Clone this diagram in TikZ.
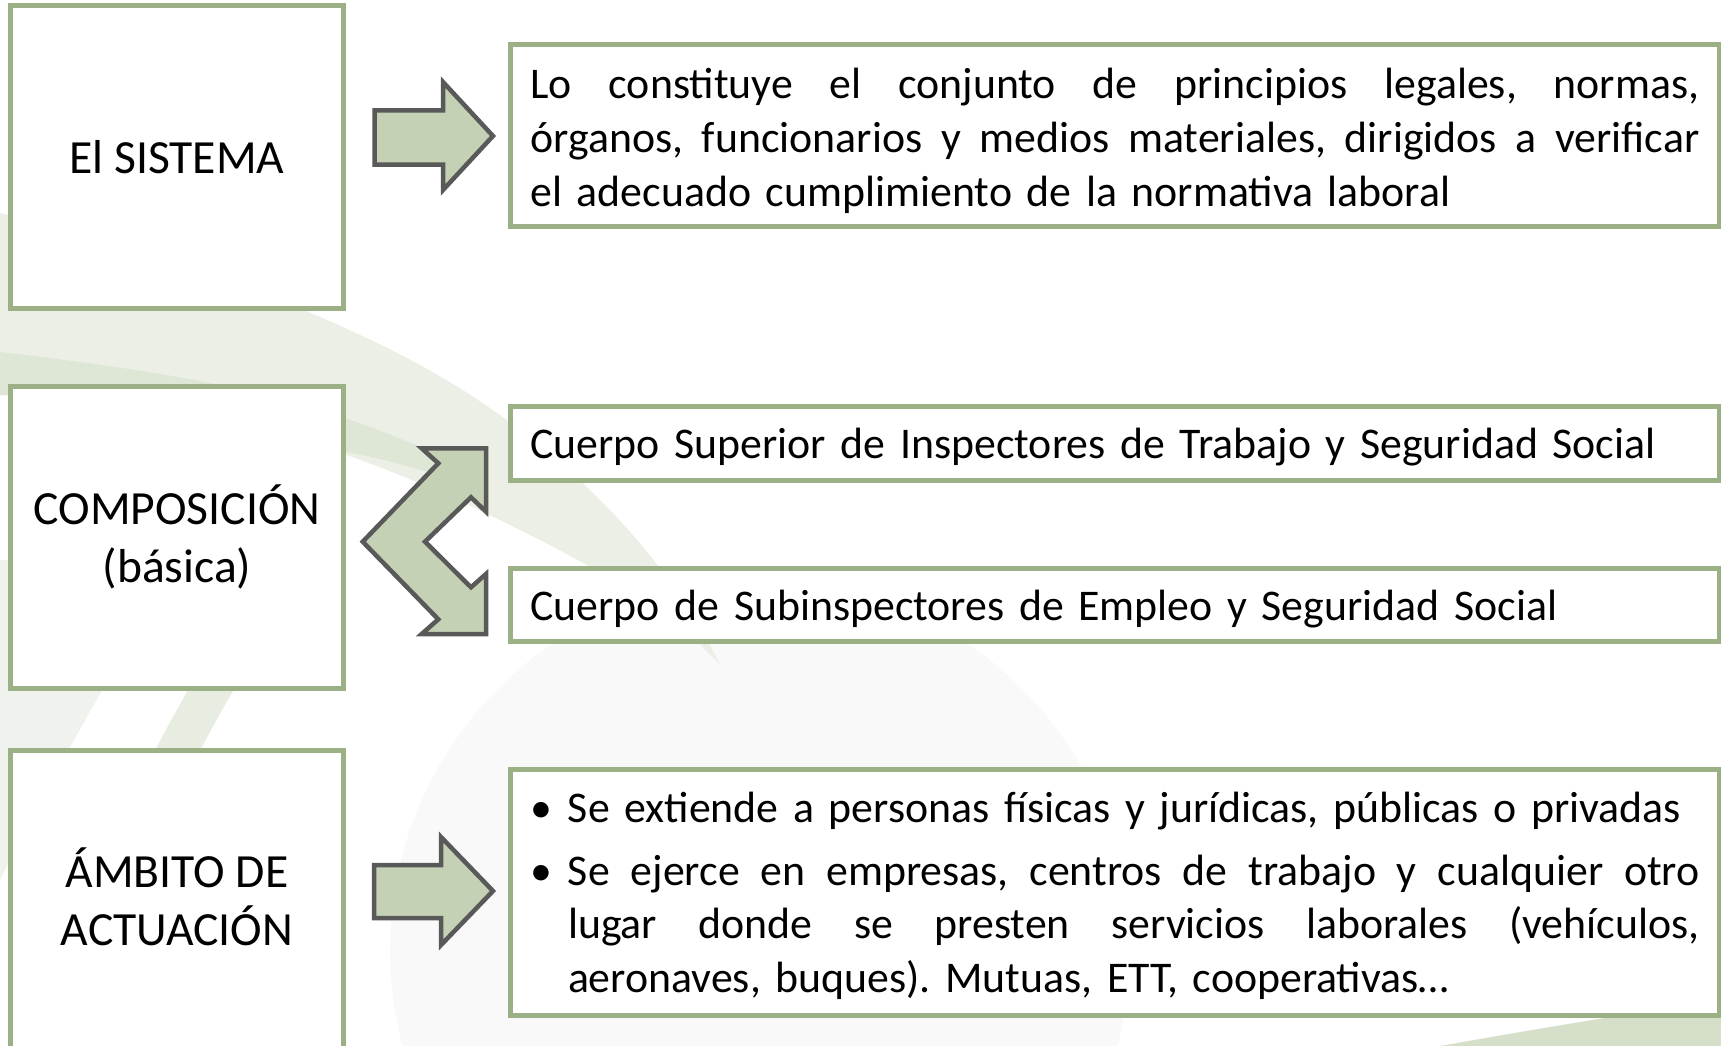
\documentclass[tikz,border=0pt]{standalone}
\usepackage{fontspec}
\setmainfont{Carlito}
\frenchspacing
\definecolor{boxgreen}{RGB}{155,176,132}
\definecolor{arrowfill}{RGB}{197,209,181}
\definecolor{arrowline}{RGB}{89,89,89}
\definecolor{swooshlight}{RGB}{235,239,229}
\definecolor{swooshdark}{RGB}{222,230,214}
\definecolor{swooshgrey}{RGB}{240,242,237}
\definecolor{swooshtail}{RGB}{213,223,201}
\definecolor{haze}{RGB}{249,249,249}
% justified line: spaces stretch to fill the given width
\newcommand{\jline}[2]{\makebox[#1][s]{\spaceskip=\fontdimen2\font plus 1fil\relax #2}}

\begin{document}
\begin{tikzpicture}[x=1pt,y=-1pt,
    leftbox/.style={draw=boxgreen, line width=5pt, fill=white,
        minimum width=333.5pt, minimum height=302pt, align=center,
        font=\fontsize{47.6}{58}\selectfont},
    labeltext/.style={align=center, font=\fontsize{47.6}{58}\selectfont},
    rightbox/.style={draw=boxgreen, line width=5pt, fill=white,
        text width=1169pt, inner xsep=20pt, inner ysep=0pt, align=left,
        font=\fontsize{43.8}{54.3}\selectfont},
    blockarrow/.style={draw=arrowline, line width=4.5pt, fill=arrowfill, line join=miter}]
    \useasboundingbox (0,0) rectangle (1721,1046);
    \clip (0,0) rectangle (1721,1046);

    % Background swooshes
    \fill[haze] (760,950) circle (370);
    \fill[swooshlight] (0,213) .. controls (150,250) and (300,300) .. (420,365)
        .. controls (540,430) and (660,540) .. (720,665)
        .. controls (670,610) and (600,570) .. (520,530)
        .. controls (440,490) and (330,440) .. (200,415)
        .. controls (120,400) and (60,395) .. (0,395) -- cycle;
    \fill[swooshdark] (0,352) .. controls (150,370) and (300,390) .. (437,455)
        .. controls (460,468) and (475,480) .. (485,495)
        .. controls (460,480) and (400,462) .. (347,452)
        .. controls (250,430) and (100,400) .. (0,395) -- cycle;
    \fill[swooshgrey] (0,560) -- (180,560) .. controls (130,640) and (60,760) .. (0,880) -- cycle;
    \fill[swooshdark!70!white] (300,520) .. controls (240,600) and (190,680) .. (140,780)
        -- (185,780) .. controls (230,690) and (280,610) .. (340,530) -- cycle;
    \fill[swooshtail] (1440,1046) .. controls (1530,1030) and (1620,1015) .. (1721,1000)
        -- (1721,1046) -- cycle;

    % Left column
    \node[leftbox] (sistema) at (177,157) {El SISTEMA};
    \node[leftbox] (composicion) at (177,537) {COMPOSICIÓN\\(básica)};
    \node[leftbox] (ambito) at (177,901) {};
    \node[labeltext] (ambitolabel) at ([yshift=4.5pt]ambito.center) {ÁMBITO DE\\ACTUACIÓN};

    % Right column
    \node[rightbox, minimum height=182pt, text height=35pt, text depth=109.6pt] (definicion) at (1115,135.5)
        {\jline{1169pt}{Lo constituye el conjunto de principios legales, normas,}\\
         \jline{1169pt}{órganos, funcionarios y medios materiales, dirigidos a verificar}\\
         el adecuado cumplimiento de la normativa laboral};
    \node[rightbox, minimum height=74pt, text height=35pt, text depth=5.4pt] (superior) at (1115,443.5)
        {Cuerpo Superior de Inspectores de Trabajo y Seguridad Social};
    \node[rightbox, minimum height=73pt, text height=35pt, text depth=3.6pt] (subinspectores) at (1115,605)
        {Cuerpo de Subinspectores de Empleo y Seguridad Social};
    \node[rightbox, minimum height=246pt, text height=35pt, text depth=175pt,
          font=\fontsize{43.8}{53.8}\selectfont] (alcance) at (1115,892.5)
        {\makebox[37.5pt][l]{\textbullet}Se extiende a personas físicas y jurídicas, públicas o privadas\\[8.8pt]
         \makebox[37.5pt][l]{\textbullet}\jline{1131.5pt}{Se ejerce en empresas, centros de trabajo y cualquier otro}\\
         \hspace*{37.5pt}\jline{1131.5pt}{lugar donde se presten servicios laborales (vehículos,}\\
         \hspace*{37.5pt}aeronaves, buques). Mutuas, ETT, cooperativas…};

    % Block arrows
    \draw[blockarrow] (374.5,110.5) -- (443,110.5) -- (443,82) -- (493,136)
        -- (443,190) -- (443,164.5) -- (374.5,164.5) -- cycle;
    \draw[blockarrow] (421.7,448.3) -- (486,448.3) -- (486,511.7) -- (471,497.3)
        -- (425,541.7) -- (471,587.3) -- (486,574) -- (486,634) -- (421.7,634)
        -- (438.3,619.3) -- (362.7,541.7) -- (438.3,463.3) -- cycle;
    \draw[blockarrow] (374,865) -- (441,865) -- (441,837) -- (493,891)
        -- (441,945) -- (441,918) -- (374,918) -- cycle;
\end{tikzpicture}
\end{document}
